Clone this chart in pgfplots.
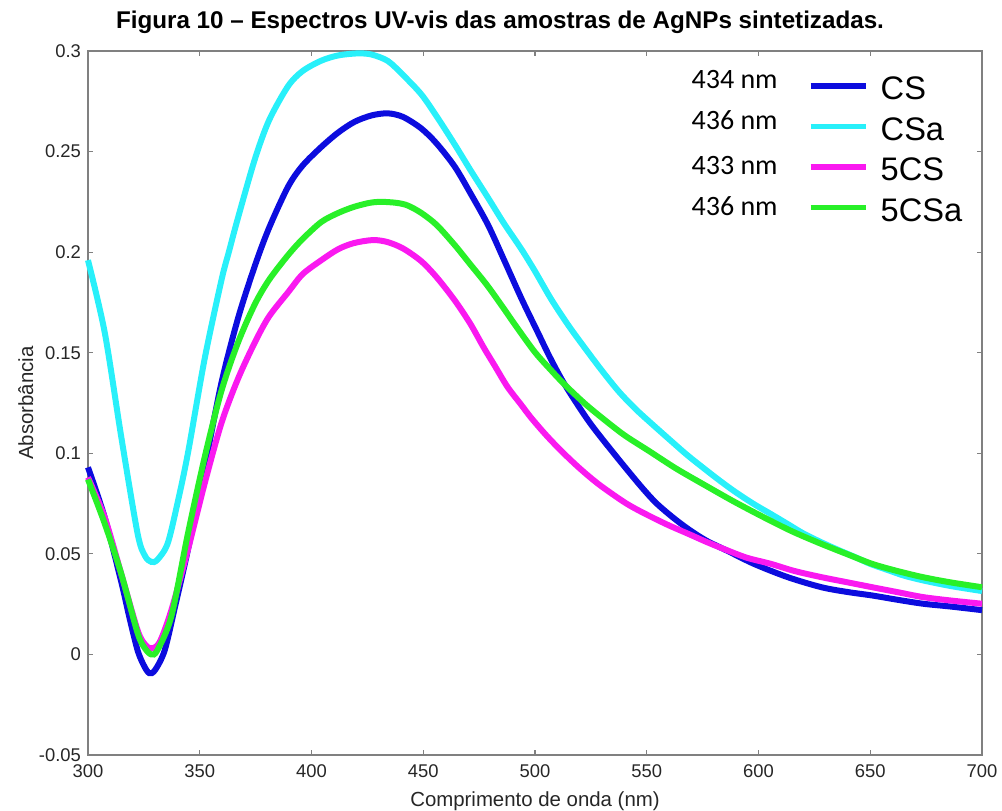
\documentclass[border=0pt]{standalone}
\usepackage{fontspec}
\setmainfont{Liberation Sans}
\newfontfamily\carlito{Carlito}
\usepackage{pgfplots}
\usepackage{pgfplotstable}
\pgfplotsset{compat=1.18}
\usetikzlibrary{calc}
\definecolor{cCS}{RGB}{12,12,222}
\definecolor{cCSa}{RGB}{40,240,250}
\definecolor{c5CS}{RGB}{250,25,240}
\definecolor{c5CSa}{RGB}{40,240,40}
\definecolor{axgray}{RGB}{128,128,128}

\pgfplotstableread{
x y
300 0.093
307.5 0.068
314.9 0.036
318.5 0.0185
322.2 0.002
325 -0.0055
327.4 -0.0093
330 -0.0078
334.3 0.002
339 0.024
344.7 0.052
352.2 0.093
359.7 0.135
367.1 0.167
374.6 0.193
381 0.212
389.5 0.2325
396 0.243
404.4 0.2523
412 0.2595
419.3 0.2648
427 0.268
434.2 0.269
441 0.2672
449.1 0.2615
456 0.254
464.1 0.2425
471 0.2295
479 0.2135
486 0.1965
493.9 0.177
501.3 0.160
507 0.147
513.4 0.134
524 0.116
534.5 0.101
546.6 0.0846
554 0.0755
561.7 0.0681
569 0.062
576.8 0.0565
585.9 0.0516
598 0.045
613.1 0.0384
628.2 0.0334
640 0.031
650.9 0.0293
662 0.0272
673.6 0.0252
686 0.0238
700 0.022
}\tCS

\pgfplotstableread{
x y
300 0.196
307.5 0.160
314.9 0.108
322.2 0.060
325.5 0.049
328.3 0.046
331 0.047
335.6 0.055
340 0.075
344.7 0.100
352.2 0.147
359.7 0.186
363 0.200
367.1 0.217
374.6 0.246
381 0.2655
389.5 0.2825
396 0.2900
404.4 0.2952
412 0.2978
420.8 0.2988
427 0.2982
434.2 0.295
441 0.288
449.1 0.2785
456 0.2675
464.1 0.2535
471 0.241
479 0.227
486 0.2145
493.9 0.2015
500 0.1905
507.3 0.1765
515 0.1635
522.4 0.1522
530 0.141
537.5 0.1307
545 0.122
552.6 0.1143
560 0.107
567.8 0.0994
575 0.093
582.9 0.0862
590 0.0805
598 0.0747
606 0.0695
613.1 0.0648
620 0.0602
628.2 0.0557
636 0.0518
643.4 0.0483
650 0.045
658.5 0.0417
665 0.0392
673.6 0.0368
686 0.034
700 0.0315
}\tCSa

\pgfplotstableread{
x y
300 0.088
307.5 0.068
314.9 0.040
322.2 0.012
325.5 0.005
328.3 0.003
332 0.006
337.3 0.022
344.7 0.052
352.2 0.085
359.7 0.115
367.1 0.137
374.6 0.155
381 0.168
389.5 0.180
396 0.189
404.4 0.196
412 0.2015
419 0.2045
427.5 0.206
434 0.205
441 0.2018
449.1 0.1955
456 0.1875
464.1 0.176
471 0.1645
477.1 0.1525
482 0.1435
487.7 0.133
493.9 0.124
498.3 0.1176
505 0.109
511.9 0.101
520 0.0925
528.5 0.0846
539.1 0.0763
545 0.0724
552.7 0.068
560 0.0641
569.3 0.0596
577 0.0558
585.9 0.0518
595 0.048
605.6 0.045
616 0.0415
628.2 0.0384
640 0.0358
650.9 0.0334
662 0.031
673.6 0.0285
686 0.0268
700 0.0252
}\tfCS

\pgfplotstableread{
x y
300 0.087
307.5 0.065
314.9 0.040
322.2 0.0106
325.5 0.003
328.3 0.000
331 0.002
337.3 0.019
344.7 0.060
352.2 0.098
359.7 0.131
367.1 0.155
374.6 0.174
381 0.1862
389.5 0.1985
396 0.2065
404.4 0.215
412 0.2195
419 0.2225
426 0.2245
431.2 0.225
438 0.2245
443 0.2232
449.1 0.2195
456 0.2135
464.1 0.2035
471 0.194
478.6 0.1835
486 0.172
491 0.164
499.8 0.1505
507 0.1415
513.4 0.134
522 0.125
530 0.1176
540 0.109
551.2 0.101
563 0.0925
575.3 0.0846
589 0.076
602.5 0.0681
615 0.0612
628.2 0.0549
640 0.0497
650.9 0.045
662 0.0415
673.6 0.0384
686 0.0358
700 0.0334
}\tfCSa

\begin{document}
\begin{tikzpicture}
\begin{axis}[
  scale only axis,
  width=447pt, height=352pt,
  xmin=300, xmax=700, ymin=-0.05, ymax=0.3,
  xtick={300,350,400,450,500,550,600,650,700},
  xticklabels={300,350,400,450,500,550,600,650,700},
  ytick={-0.05,0,0.05,0.1,0.15,0.2,0.25,0.3},
  yticklabels={-0.05,0,0.05,0.1,0.15,0.2,0.25,0.3},
  tick label style={font=\fontsize{9.2}{10}\selectfont, text=black!85},
  xticklabel style={yshift=-1.5pt},
  tick align=inside, tick pos=both, major tick length=2.5pt,
  axis line style={draw=axgray, line width=0.6pt},
  every tick/.style={draw=axgray, line width=0.6pt},
  xlabel={Comprimento de onda (nm)},
  ylabel={Absorbância},
  label style={font=\fontsize{10.2}{12}\selectfont, text=black!85},
  xlabel style={at={(rel axis cs:0.5,-0.0734)}, anchor=base},
  ylabel style={at={(rel axis cs:-0.0615,0.5)}, anchor=base, rotate=0},
  clip=false,
  legend style={draw=none, fill=none, at={(rel axis cs:0.8055,0.9645)}, anchor=north west,
    inner sep=0pt, outer sep=0pt, row sep=5.25pt, column sep=6.2pt,
    nodes={inner sep=0pt, text height=12pt, text depth=3pt},
    font=\fontsize{16.3}{18}\selectfont},
  legend cell align=left,
  legend image code/.code={\draw[#1, line width=2.6pt] (0pt,2.5pt) -- (27.5pt,2.5pt);},
  every axis plot/.append style={line width=3pt},
]
\addplot[cCS, no marks, smooth] table {\tCS};
\addplot[cCSa, no marks, smooth] table {\tCSa};
\addplot[c5CS, no marks, smooth] table {\tfCS};
\addplot[c5CSa, no marks, smooth] table {\tfCSa};
\legend{CS, CSa, 5CS, 5CSa}
\node[anchor=base east, inner sep=0pt, font=\carlito\fontsize{14}{15}\selectfont] at (rel axis cs:0.7718,0.947) {434 nm};
\node[anchor=base east, inner sep=0pt, font=\carlito\fontsize{14}{15}\selectfont] at (rel axis cs:0.7718,0.8878) {436 nm};
\node[anchor=base east, inner sep=0pt, font=\carlito\fontsize{14}{15}\selectfont] at (rel axis cs:0.7718,0.8239) {433 nm};
\node[anchor=base east, inner sep=0pt, font=\carlito\fontsize{14}{15}\selectfont] at (rel axis cs:0.7718,0.767) {436 nm};
\node[anchor=base, font=\bfseries\fontsize{12.1}{14}\selectfont] at (rel axis cs:0.4609,1.032) {Figura 10 – Espectros UV-vis das amostras de AgNPs sintetizadas.};
\coordinate (bl) at (rel axis cs:0,0);
\coordinate (tr) at (rel axis cs:1,1);
\end{axis}
\pgfresetboundingbox
\path ($(bl)+(-44pt,-28pt)$) rectangle ($(tr)+(10pt,25.5pt)$);
\end{tikzpicture}
\end{document}
